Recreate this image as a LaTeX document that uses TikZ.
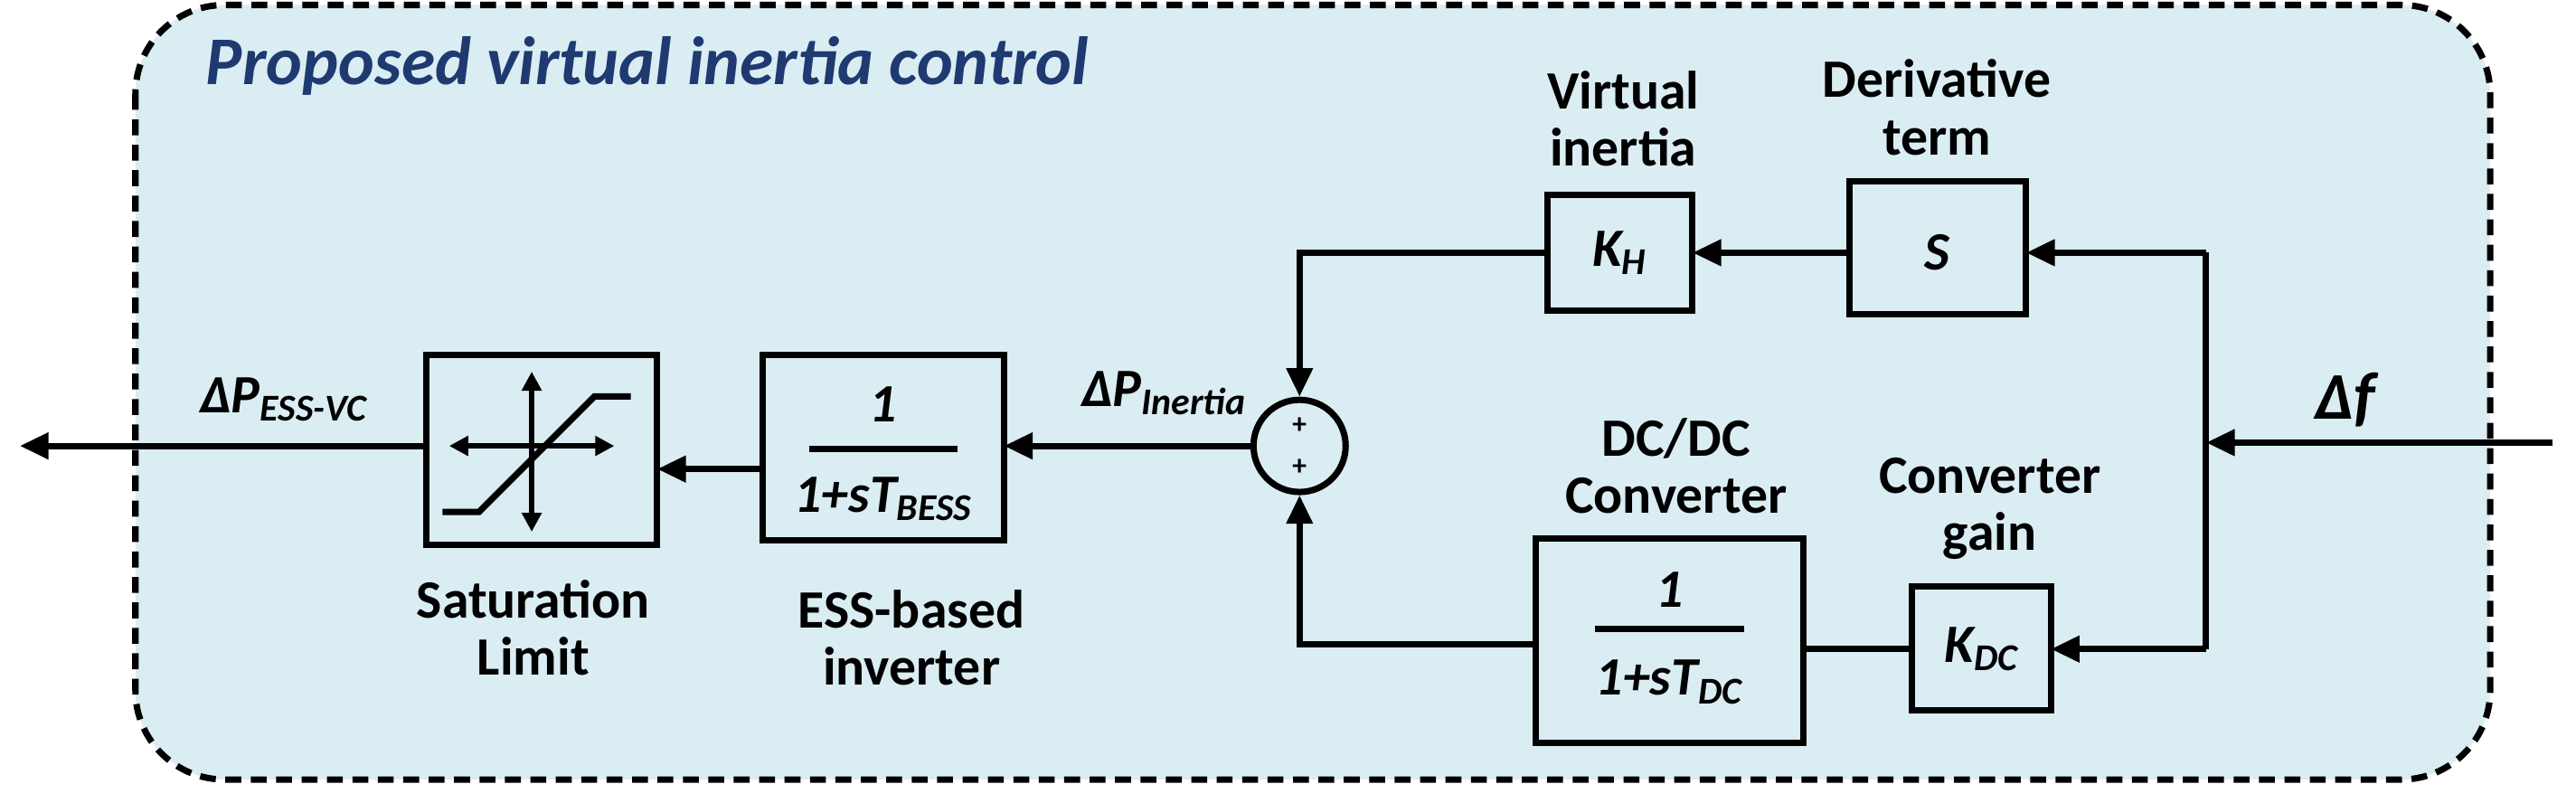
\documentclass[tikz,border=0pt]{standalone}
\usepackage{fontspec}
\setmainfont{Carlito}
\usetikzlibrary{arrows.meta}
\definecolor{bgblue}{HTML}{DAEDF3}
\definecolor{titleblue}{HTML}{1F3A70}
\begin{document}
\begin{tikzpicture}[x=0.01826cm,y=-0.01826cm,
  ln/.style={line width=2pt},
  ar/.style={line width=2pt,-{Triangle[length=9pt,width=8pt]}},
  lab/.style={font=\fontsize{17}{18}\selectfont\bfseries,align=center},
  mth/.style={font=\fontsize{17}{18}\selectfont\bfseries\itshape}]
\useasboundingbox (0,0) rectangle (1560,486);
\draw[line width=2pt,dash pattern=on 5pt off 3pt,fill=bgblue,rounded corners=28pt] (82,3) rectangle (1508,472);
\node[anchor=west,text=titleblue,font=\fontsize{21.5}{22}\selectfont\bfseries\itshape] (title) at (118,40) {Proposed virtual inertia control};
% blocks
\draw[ln] (258,215) rectangle (398,330); \coordinate (satL) at (258,270); \coordinate (satR) at (398,284);
\draw[ln] (462,215) rectangle (608,327); \coordinate (essL) at (462,284); \coordinate (essR) at (608,270);
\draw[ln] (937,118) rectangle (1025,188);
\draw[ln] (1120,110) rectangle (1227,190);
\draw[ln] (930,326) rectangle (1092,450);
\draw[ln] (1158,355) rectangle (1242,430);
\node[mth] (kh) at (981,153) {K\textsubscript{H}};
\node[mth] (s) at (1173,153) {S};
\node[mth] (kdc) at (1200,393) {K\textsubscript{DC}};
\node[mth] (n1) at (535,245) {1};
\draw[ln] (490,272) -- (580,272);
\node[mth] (d1) at (535,302) {1+sT\textsubscript{BESS}};
\node[mth] (n2) at (1011,357) {1};
\draw[ln] (966,381) -- (1056,381);
\node[mth] (d2) at (1011,413) {1+sT\textsubscript{DC}};
% saturation symbol
\draw[line width=1.5pt,{Triangle[length=6pt,width=6pt]}-{Triangle[length=6pt,width=6pt]}] (272,270) -- (372,270);
\draw[line width=1.5pt,{Triangle[length=6pt,width=6pt]}-{Triangle[length=6pt,width=6pt]}] (322,225) -- (322,322);
\draw[line width=2pt] (268,310) -- (290,310) -- (360,240) -- (382,240);
% sum
\node[draw,circle,line width=2pt,minimum size=29pt] (sum) at (787,270) {};
\node[font=\bfseries\small] (p1) at (787,258) {+};
\node[font=\bfseries\small] (p2) at (787,283) {+};
% connectors
\coordinate (inS) at (1546,268); \coordinate (jn) at (1336,268);
\coordinate (rt) at (1336,153); \coordinate (rb) at (1336,393);
\draw[ar] (inS) -- (jn);
\draw[ln] (rt) -- (rb);
\draw[ar] (rt) -- (1227,153);
\draw[ar] (1120,153) -- (1025,153);
\draw[ar] (rb) -- (1242,393);
\draw[ln] (1158,393) -- (1092,393);
\draw[ar] (937,153) -- (787,153) -- (sum.north);
\draw[ar] (930,390) -- (787,390) -- (sum.south);
\draw[ar] (sum.west) -- (essR);
\draw[ar] (essL) -- (satR);
\draw[ar] (satL) -- (12,270);
% labels
\node[lab] (l1) at (983,72) {Virtual\\inertia};
\node[lab] (l2) at (1173,65) {Derivative\\term};
\node[lab] (l3) at (1015,282) {DC/DC\\Converter};
\node[lab] (l4) at (1205,308) {Converter\\gain};
\node[lab] (l5) at (323,380) {Saturation\\Limit};
\node[lab] (l6) at (552,386) {ESS-based\\inverter};
\node[mth] (l7) at (705,238) {ΔP\textsubscript{Inertia}};
\node[mth] (l8) at (172,242) {ΔP\textsubscript{ESS-VC}};
\node[font=\fontsize{21}{22}\selectfont\bfseries\itshape] (l9) at (1420,242) {Δf};
\end{tikzpicture}
\end{document}
